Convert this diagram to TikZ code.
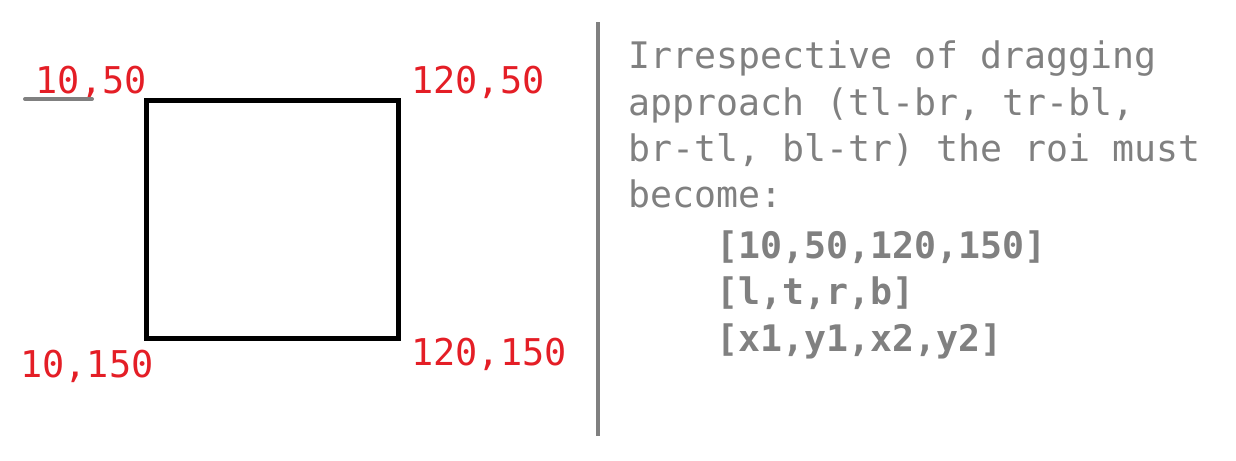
\documentclass[tikz,border=0pt]{standalone}
\usepackage{fontspec}
\setmonofont{DejaVu Sans Mono}
\usetikzlibrary{positioning}
\definecolor{coordred}{RGB}{228, 30, 38}
\definecolor{notegray}{RGB}{128, 128, 128}

\begin{document}
\begin{tikzpicture}[x=0.02cm, y=-0.02cm,
  lbl/.style={inner sep=0pt, font=\ttfamily\fontsize{21}{24}\selectfont, text=coordred},
  note/.style={inner sep=0pt, anchor=base west, font=\ttfamily\fontsize{20.8}{24}\selectfont, text=notegray},
  roi/.style={note, font=\ttfamily\bfseries\fontsize{20.8}{24}\selectfont},
  rule/.style={draw=notegray, line width=0.08cm}]

  \useasboundingbox (0,0) rectangle (1236,460);

  % the roi box
  \coordinate (tl) at (146,100);
  \coordinate (br) at (398,338);
  \draw[line width=0.1cm] (tl) rectangle (br);

  % corner labels
  \node[lbl, anchor=base east] (ptl) at (147,93) {10,50};
  \node[lbl, anchor=base west] (ptr) at (411,93) {120,50};
  \node[lbl, anchor=base west] (pbl) at (20,377) {10,150};
  \node[lbl, anchor=base west] (pbr) at (411,365) {120,150};
  \draw[draw=notegray, line width=0.08cm, line cap=round] (25,99) -- (92,99);

  % divider
  \coordinate (divtop) at (598,22);
  \coordinate (divbot) at (598,436);
  \draw[rule] (divtop) -- (divbot);

  % note text
  \node[note] (line1) at (628,68) {Irrespective of dragging};
  \node[note] (line2) at (628,115) {approach (tl-br, tr-bl,};
  \node[note] (line3) at (628,161) {br-tl, bl-tr) the roi must};
  \node[note] (line4) at (628,207) {become:};
  \node[roi] (line5) at (716,258) {[10,50,120,150]};
  \node[roi] (line6) at (716,304) {[l,t,r,b]};
  \node[roi] (line7) at (716,351) {[x1,y1,x2,y2]};
\end{tikzpicture}
\end{document}
